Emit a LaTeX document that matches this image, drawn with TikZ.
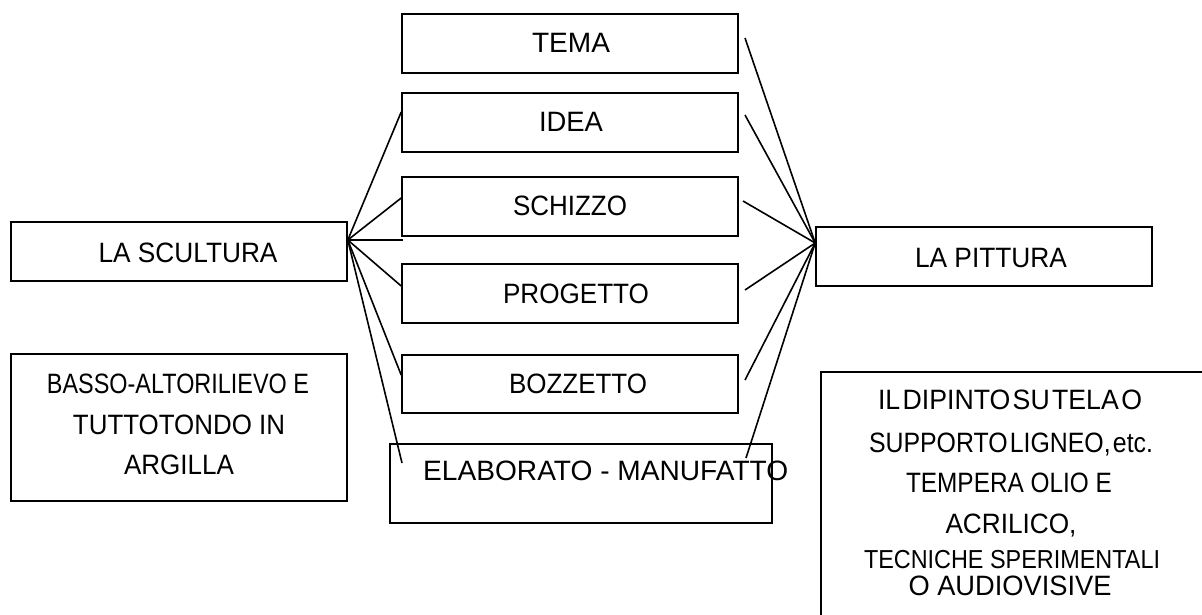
\documentclass[tikz,border=0pt]{standalone}
\usepackage{fontspec}
\usepackage{graphicx}
\setmainfont{Liberation Sans}
\newcommand\sqz[2]{\resizebox{#1}{\height}{#2}}
\begin{document}
\begin{tikzpicture}[x=1pt,y=-1pt,
  box/.style={draw, line width=1.6pt, inner sep=0pt, minimum width=336pt, minimum height=59pt},
  txt/.style={inner sep=0pt, font=\fontsize{28pt}{33pt}\selectfont, text height=20pt, text depth=0pt},
  conn/.style={line width=1.6pt}]
\useasboundingbox (0,0) rectangle (1202,614);
\fill[white] (0,0) rectangle (1202,614);

% left boxes
\node[box] (scultura) at (179,251.5) {};
\node[txt] (tscultura) at (188,252) {\sqz{179pt}{LA SCULTURA}};
\node[box, minimum height=147pt] (basso) at (179,427.5) {};
\node[txt] (b1) at (178,383) {\sqz{262pt}{BASSO-ALTORILIEVO E}};
\node[txt] (b2) at (179,424) {\sqz{212pt}{TUTTOTONDO IN}};
\node[txt] (b3) at (179,464) {\sqz{110pt}{ARGILLA}};

% middle boxes
\node[box] (tema) at (570,43.5) {};
\node[txt] (ttema) at (571,42.5) {\sqz{78pt}{TEMA}};
\node[box] (idea) at (570,122.5) {};
\node[txt] (tidea) at (571,121.5) {\sqz{64pt}{IDEA}};
\node[box] (schizzo) at (570,206.5) {};
\node[txt] (tschizzo) at (570,205.5) {\sqz{114pt}{SCHIZZO}};
\node[box] (progetto) at (570,293.5) {};
\node[txt] (tprogetto) at (576,293) {\sqz{146pt}{PROGETTO}};
\node[box, minimum height=58pt] (bozzetto) at (570,384) {};
\node[txt] (tbozzetto) at (578,383.5) {\sqz{138pt}{BOZZETTO}};
\node[box, minimum width=382pt, minimum height=79pt] (elaborato) at (581,483.5) {};
\node[txt, anchor=west] (telab) at (423,470) {\sqz{365pt}{ELABORATO - MANUFATTO}};

% right boxes
\node[box] (pittura) at (984,256.5) {};
\node[txt] (tpittura) at (991,257) {\sqz{152pt}{LA PITTURA}};
\coordinate (rtl) at (821,372);
\coordinate (rtr) at (1203,372);
\coordinate (rbl) at (821,615);
\draw[line width=1.6pt] (rtr) -- (rtl) -- (rbl);
\node[txt] (r1) at (1010,399) {\spaceskip=2.5pt\sqz{264pt}{IL DIPINTO SU TELA O}};
\node[txt] (r2) at (1011,442) {\spaceskip=2.5pt\sqz{284pt}{SUPPORTO LIGNEO, etc.}};
\node[txt] (r3) at (1009,482) {\sqz{206pt}{TEMPERA OLIO E}};
\node[txt] (r4) at (1011,523) {\sqz{131pt}{ACRILICO,}};
\node[txt, text height=18.5pt] (r5) at (1012,559.5) {\sqz{296pt}{\fontsize{26pt}{30pt}\selectfont TECNICHE SPERIMENTALI}};
\node[txt] (r6) at (1010,585) {\sqz{203pt}{O AUDIOVISIVE}};

% left fan
\coordinate (fl) at ([yshift=11.5pt]scultura.east);
\coordinate (hfree) at (403,240);
\coordinate (efree) at (402,463);
\draw[conn] (fl) -- ([yshift=10.5pt]idea.west);
\draw[conn] (fl) -- ([yshift=8.5pt]schizzo.west);
\draw[conn] (fl) -- (hfree);
\draw[conn] (fl) -- ([yshift=7.5pt]progetto.west);
\draw[conn] (fl) -- ([yshift=9pt]bozzetto.west);
\draw[conn] (fl) -- (efree);

% right fan
\coordinate (fr) at ([yshift=13.5pt]pittura.west);
\coordinate (s1) at (745,38);
\coordinate (s2) at (745,115);
\coordinate (s3) at (743,201);
\coordinate (s4) at (745,290);
\coordinate (s5) at (745,380);
\coordinate (s6) at (746,458);
\foreach \s in {s1,s2,s3,s4,s5,s6} \draw[conn] (\s) -- (fr);
\end{tikzpicture}
\end{document}
